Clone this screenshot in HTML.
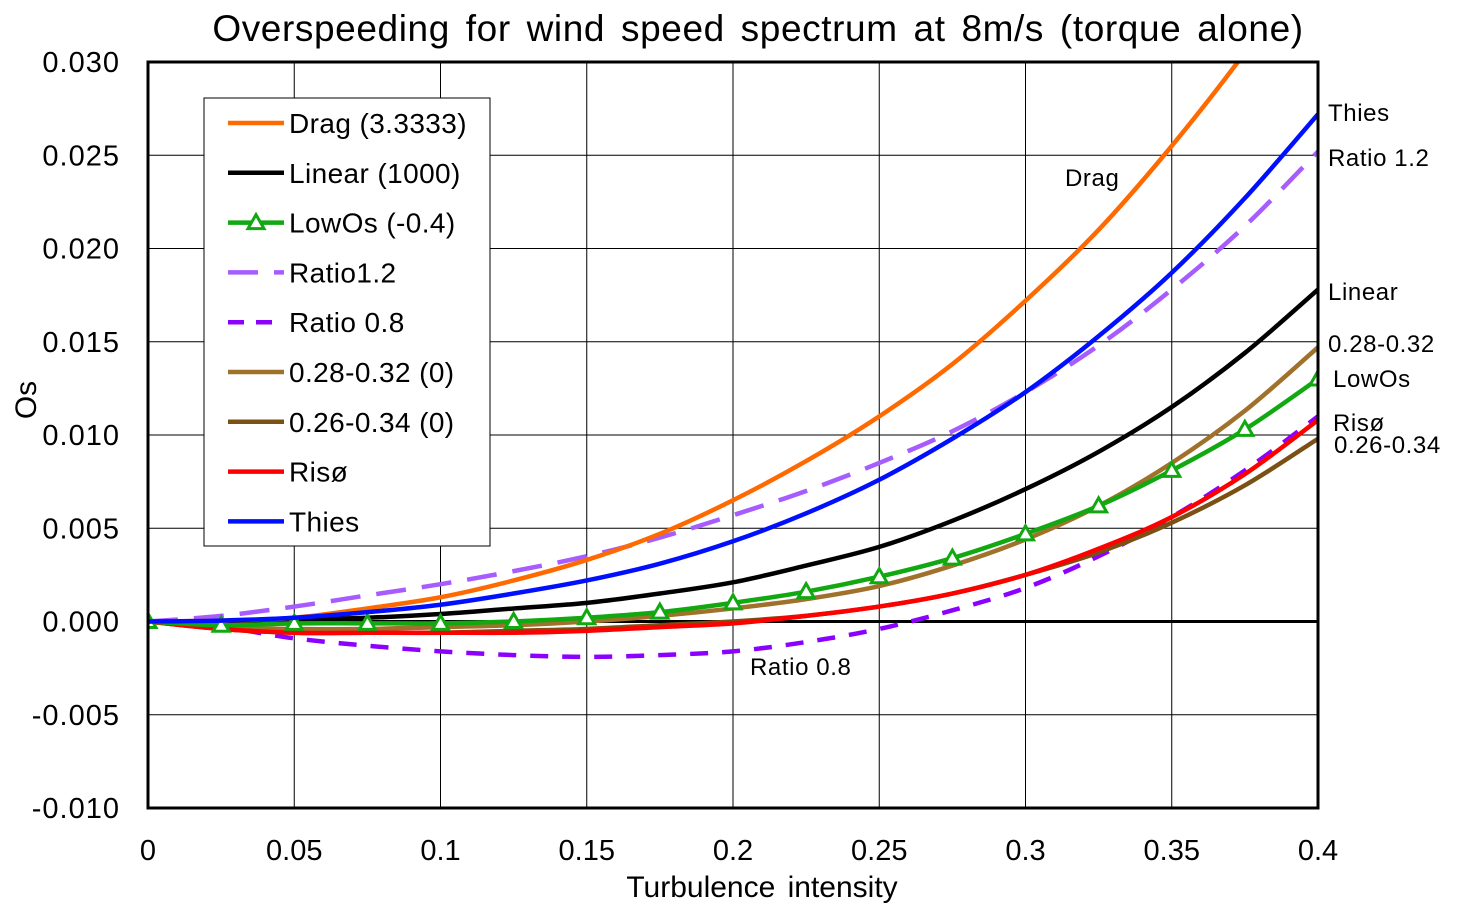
<!DOCTYPE html>
<html><head><meta charset="utf-8"><style>
body{margin:0;background:#fff}
svg text{font-family:"Liberation Sans",sans-serif}
</style></head><body>
<svg id="chart" width="1459" height="918" viewBox="0 0 1459 918" xmlns="http://www.w3.org/2000/svg">
<defs><clipPath id="pc"><rect x="148" y="62" width="1170" height="746"/></clipPath></defs>
<text x="758" y="41" font-size="37" text-anchor="middle" word-spacing="5" letter-spacing="0.6">Overspeeding  for wind speed spectrum at 8m/s (torque alone)</text>
<g id="grid"></g>
<g id="ticks"></g>
<g id="series" clip-path="url(#pc)"></g>
<rect x="148" y="62" width="1170" height="746" fill="none" stroke="#000" stroke-width="3"/>
<text x="762" y="897" font-size="30" text-anchor="middle" word-spacing="4">Turbulence intensity</text>
<text transform="translate(36,400) rotate(-90)" font-size="30" text-anchor="middle">Os</text>
<g id="annot" font-size="24"></g>
<g id="legend"></g>
</svg>
<script>
const xs=[0,0.025,0.05,0.075,0.1,0.125,0.15,0.175,0.2,0.225,0.25,0.275,0.3,0.325,0.35,0.375,0.4];
const dragVals=[0,0.00005,0.0002,0.0007,0.0013,0.0022,0.0033,0.0047,0.0065,0.0086,0.011,0.0138,0.0172,0.021,0.0255,0.0305,0.036];
const linearVals=[0,0,0.0001,0.0002,0.0004,0.0007,0.001,0.0015,0.0021,0.003,0.004,0.0054,0.0071,0.0091,0.0115,0.0144,0.0178];
const lowOsVals=[0,-0.0002,-0.0001,-0.0001,-0.0001,0,0.0002,0.0005,0.001,0.0016,0.0024,0.0034,0.0047,0.0062,0.0081,0.0103,0.013];
const ratio12Vals=[0,0.0003,0.0008,0.0014,0.002,0.0027,0.0035,0.0045,0.0057,0.007,0.0085,0.0102,0.0123,0.0148,0.0178,0.0212,0.0252];
const ratio08Vals=[0,-0.0003,-0.0009,-0.0013,-0.0016,-0.0018,-0.0019,-0.0018,-0.0016,-0.0011,-0.0004,0.0006,0.0018,0.0035,0.0056,0.0081,0.011];
const r2832Vals=[0,-0.0003,-0.0004,-0.0004,-0.0003,-0.0002,0,0.0003,0.0007,0.0012,0.0019,0.003,0.0044,0.0062,0.0085,0.0113,0.0147];
const r2634Vals=[0,-0.0004,-0.0006,-0.0006,-0.0006,-0.0005,-0.0004,-0.0002,0,0.0003,0.0008,0.0015,0.0025,0.0037,0.0053,0.0073,0.0098];
const risoVals=[0,-0.0004,-0.0006,-0.0006,-0.0006,-0.0006,-0.0005,-0.0003,-0.0001,0.0003,0.0008,0.0015,0.0025,0.0039,0.0056,0.0079,0.0108];
const thiesVals=[0,0.00005,0.0002,0.0005,0.0009,0.0015,0.0022,0.0031,0.0043,0.0058,0.0076,0.0098,0.0123,0.0153,0.0187,0.0227,0.0272];
const xTicks=[0,0.05,0.1,0.15,0.2,0.25,0.3,0.35,0.4];
const xTickLabels=["0","0.05","0.1","0.15","0.2","0.25","0.3","0.35","0.4"];
const yTicks=[0.03,0.025,0.02,0.015,0.01,0.005,0,-0.005,-0.01];
const yTickLabels=["0.030","0.025","0.020","0.015","0.010","0.005","0.000","-0.005","-0.010"];

const X=v=>148+v/0.4*1170, Y=v=>621.5-v/0.04*746;
const NS="http://www.w3.org/2000/svg";
function mk(t,a,p){const e=document.createElementNS(NS,t);for(const k in a)e.setAttribute(k,a[k]);p.appendChild(e);return e;}
const grid=document.getElementById('grid'),ticks=document.getElementById('ticks');
xTicks.forEach((t,i)=>{
 const l=mk('line',{x1:X(t),x2:X(t),y1:62,y2:808,stroke:'#000','stroke-width':1},grid);
 
 const tx=mk('text',{x:X(t),y:860,'font-size':29,'text-anchor':'middle'},ticks);tx.textContent=xTickLabels[i];
 
});
yTicks.forEach((t,i)=>{
 const l=mk('line',{x1:148,x2:1318,y1:Y(t),y2:Y(t),stroke:'#000','stroke-width':t===0?3:1},grid);
 
 const tx=mk('text',{x:120,y:Y(t)+10,'font-size':29,'text-anchor':'end','letter-spacing':1},ticks);tx.textContent=yTickLabels[i];
 
});
function pathD(vals){const p=xs.map((x,i)=>[X(x),Y(vals[i])]);let d='M'+p[0][0]+','+p[0][1];
 for(let i=0;i<p.length-1;i++){const p0=p[i-1]||p[i],p1=p[i],p2=p[i+1],p3=p[i+2]||p[i+1];
  d+=' C'+(p1[0]+(p2[0]-p0[0])/6)+','+(p1[1]+(p2[1]-p0[1])/6)+' '+(p2[0]-(p3[0]-p1[0])/6)+','+(p2[1]-(p3[1]-p1[1])/6)+' '+p2[0]+','+p2[1];}
 return d;}
const series=[
 {n:'ratio-0.8',v:ratio08Vals,c:'#8B00FF',dash:'18 14',label:'Ratio 0.8'},
 {n:'ratio-1.2',v:ratio12Vals,c:'#A65CFF',dash:'30 16',label:'Ratio1.2'},
 {n:'0.26-0.34',v:r2634Vals,c:'#7B5014',label:'0.26-0.34 (0)'},
 {n:'0.28-0.32',v:r2832Vals,c:'#A0712A',label:'0.28-0.32 (0)'},
 {n:'riso',v:risoVals,c:'#FF0000',label:'Risø'},
 {n:'linear',v:linearVals,c:'#000',label:'Linear (1000)'},
 {n:'lowos',v:lowOsVals,c:'#11A811',marker:true,label:'LowOs (-0.4)'},
 {n:'drag',v:dragVals,c:'#FF6A00',label:'Drag (3.3333)'},
 {n:'thies',v:thiesVals,c:'#0010FF',label:'Thies'}];
const sg=document.getElementById('series');
series.forEach(s=>{
 const p=mk('path',{d:pathD(s.v),fill:'none',stroke:s.c,'stroke-width':4.5},sg);
 if(s.dash)p.setAttribute('stroke-dasharray',s.dash);
 
 if(s.marker)xs.forEach((x,i)=>{const cx=X(x),cy=Y(s.v[i]);
  const m=mk('polygon',{points:`${cx},${cy-8} ${cx-8},${cy+6} ${cx+8},${cy+6}`,fill:'#fff',stroke:s.c,'stroke-width':3},sg);
  });
});
const lg=document.getElementById('legend');
const box=mk('rect',{x:204,y:98,width:286,height:448,fill:'#fff',stroke:'#000','stroke-width':1},lg);

const order=['drag','linear','lowos','ratio-1.2','ratio-0.8','0.28-0.32','0.26-0.34','riso','thies'];
order.forEach((n,i)=>{const s=series.find(q=>q.n===n);const y=123+i*49.8;
 const g=mk('g',{},lg);
 const l=mk('line',{x1:228,x2:284,y1:y,y2:y,stroke:s.c,'stroke-width':4.5},g);
 if(s.dash)l.setAttribute('stroke-dasharray',n==='ratio-0.8'?'16 12':'30 16');
 if(s.marker)mk('polygon',{points:`256,${y-8} 248,${y+6} 264,${y+6}`,fill:'#fff',stroke:s.c,'stroke-width':3},g);
 const t=mk('text',{x:289,y:y+10,'font-size':28,'letter-spacing':0.4},g);t.textContent=s.label;});
const ann=[['Drag',1065,186],['Thies',1328,121],['Ratio 1.2',1328,166],['Linear',1328,300],['0.28-0.32',1328,352],['LowOs',1333,387],['Risø',1333,431],['0.26-0.34',1334,453],['Ratio 0.8',750,675]];
const ag=document.getElementById('annot');
ann.forEach(a=>{const t=mk('text',{x:a[1],y:a[2],'letter-spacing':0.6},ag);t.textContent=a[0];
 });
</script>
</body></html>
